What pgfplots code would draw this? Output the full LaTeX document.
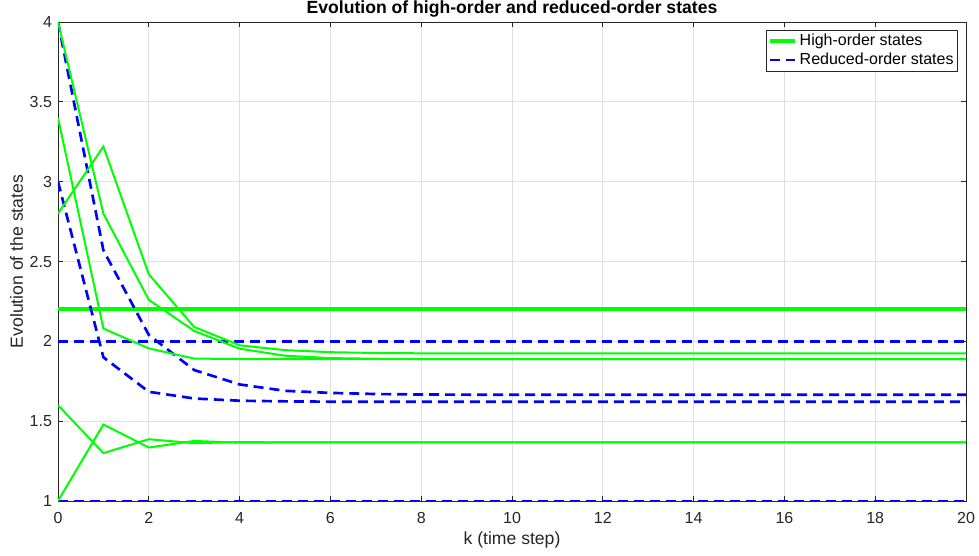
\documentclass[border=0pt]{standalone}
\usepackage{pgfplots}
\pgfplotsset{compat=1.18}
\usepackage{pgfplotstable}
\usepackage{fontspec}
\setmainfont{Liberation Sans}
\definecolor{axgray}{rgb}{0.15,0.15,0.15}
\definecolor{gridgray}{rgb}{0.88,0.88,0.88}
\definecolor{mgreen}{rgb}{0,1,0}
\definecolor{mblue}{rgb}{0,0,1}

\pgfplotstableread{
k   H     A      B      C      D      E      R1   R2   F      G
0   2.2   4.000  3.400  2.800  1.600  1.000  2.0  1.0  4.000  3.000
1   2.2   2.800  2.080  3.220  1.300  1.479  2.0  1.0  2.570  1.900
2   2.2   2.260  1.956  2.420  1.387  1.335  2.0  1.0  2.040  1.684
3   2.2   2.065  1.892  2.090  1.362  1.376  2.0  1.0  1.820  1.642
4   2.2   1.954  1.889  1.975  1.369  1.365  2.0  1.0  1.730  1.628
5   2.2   1.910  1.889  1.945  1.367  1.367  2.0  1.0  1.690  1.624
6   2.2   1.895  1.889  1.932  1.367  1.367  2.0  1.0  1.677  1.622
7   2.2   1.891  1.889  1.927  1.367  1.367  2.0  1.0  1.670  1.622
8   2.2   1.889  1.889  1.925  1.367  1.367  2.0  1.0  1.667  1.622
9   2.2   1.889  1.889  1.925  1.367  1.367  2.0  1.0  1.666  1.622
10  2.2   1.889  1.889  1.925  1.367  1.367  2.0  1.0  1.665  1.622
11  2.2   1.889  1.889  1.925  1.367  1.367  2.0  1.0  1.665  1.622
12  2.2   1.889  1.889  1.925  1.367  1.367  2.0  1.0  1.665  1.622
13  2.2   1.889  1.889  1.925  1.367  1.367  2.0  1.0  1.665  1.622
14  2.2   1.889  1.889  1.925  1.367  1.367  2.0  1.0  1.665  1.622
15  2.2   1.889  1.889  1.925  1.367  1.367  2.0  1.0  1.665  1.622
16  2.2   1.889  1.889  1.925  1.367  1.367  2.0  1.0  1.665  1.622
17  2.2   1.889  1.889  1.925  1.367  1.367  2.0  1.0  1.665  1.622
18  2.2   1.889  1.889  1.925  1.367  1.367  2.0  1.0  1.665  1.622
19  2.2   1.889  1.889  1.925  1.367  1.367  2.0  1.0  1.665  1.622
20  2.2   1.889  1.889  1.925  1.367  1.367  2.0  1.0  1.665  1.622
}\states

\begin{document}
\begin{tikzpicture}
\begin{axis}[
  scale only axis,
  width=681pt, height=359.25pt,
  xmin=0, xmax=20, ymin=1, ymax=4,
  xtick={0,2,...,20},
  ytick={1,1.5,...,4},
  yticklabel style={/pgf/number format/fixed, xshift=-1pt},
  xticklabel style={yshift=-5pt},
  /pgf/number format/assume math mode=true,
  tick label style={font=\fontsize{12}{14}\selectfont, text=axgray},
  grid=major,
  major grid style={gridgray, line width=0.6pt},
  axis line style={axgray, line width=0.6pt},
  tick style={axgray, line width=0.6pt},
  tick align=inside,
  major tick length=4pt,
  title={\bfseries Evolution of high-order and reduced-order states},
  title style={font=\fontsize{13.2}{15}\selectfont, at={(axis description cs:0.5,1)}, anchor=center, yshift=4pt},
  xlabel={k (time step)},
  ylabel={Evolution of the states},
  label style={font=\fontsize{13.2}{15}\selectfont, text=axgray},
  xlabel style={at={(axis description cs:0.5,0)}, anchor=center, yshift=-29pt},
  ylabel style={at={(axis description cs:0,0.5)}, anchor=center, yshift=31pt},
  legend style={at={(1,1)}, anchor=north east, xshift=-6pt, yshift=-6pt, draw=axgray,
    line width=0.6pt, font=\fontsize{12}{14}\selectfont,
    inner sep=1pt, row sep=0pt, cells={anchor=west}},
  legend image code/.code={\draw[#1] (0pt,0pt) -- (19pt,0pt);},
]
\addplot[mgreen, line width=3pt] table[x=k, y=H] {\states};
\addlegendentry{High-order states}
\addplot[mblue, line width=2pt, dash pattern=on 7.5pt off 4.5pt] table[x=k, y=R1] {\states};
\addlegendentry{Reduced-order states}
\addplot[mblue, line width=2pt, dash pattern=on 7.5pt off 4.5pt, forget plot] table[x=k, y=R2] {\states};
\addplot[mblue, line width=2pt, dash pattern=on 7.5pt off 4.5pt, forget plot] table[x=k, y=F] {\states};
\addplot[mblue, line width=2pt, dash pattern=on 7.5pt off 4.5pt, forget plot] table[x=k, y=G] {\states};
\addplot[mgreen, line width=1.5pt, forget plot] table[x=k, y=A] {\states};
\addplot[mgreen, line width=1.5pt, forget plot] table[x=k, y=B] {\states};
\addplot[mgreen, line width=1.5pt, forget plot] table[x=k, y=C] {\states};
\addplot[mgreen, line width=1.5pt, forget plot] table[x=k, y=D] {\states};
\addplot[mgreen, line width=1.5pt, forget plot] table[x=k, y=E] {\states};
\coordinate (ll) at (rel axis cs:0,0);
\coordinate (ur) at (rel axis cs:1,1);
\end{axis}
\pgfresetboundingbox
\path[use as bounding box] ([shift={(-43.5pt,-41.25pt)}]ll) rectangle ([shift={(9.75pt,16.5pt)}]ur);
\end{tikzpicture}
\end{document}
